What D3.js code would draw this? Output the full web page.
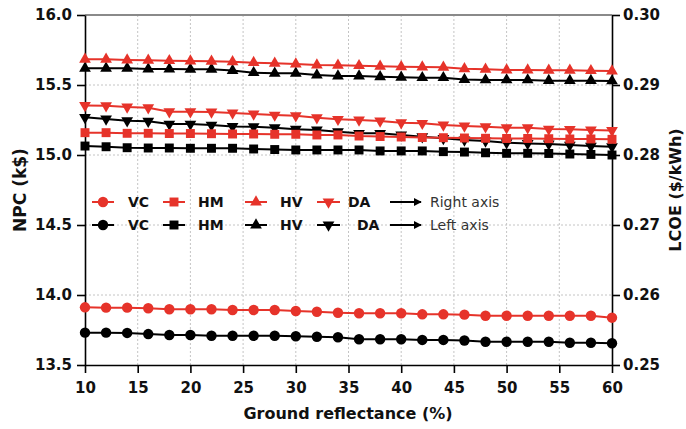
<!DOCTYPE html>
<html>
<head>
<meta charset="utf-8">
<script src="https://cdn.jsdelivr.net/npm/d3@7"></script>
<style>
  body { margin: 0; background: #fff; }
  text { font-family: "DejaVu Sans", sans-serif; }
</style>
</head>
<body>
<svg id="chart" width="686" height="429"></svg>
<script>
// Ground reflectance (%)
const reflectance = [10, 12, 14, 16, 18, 20, 22, 24, 26, 28, 30, 32, 34, 36, 38, 40, 42, 44, 46, 48, 50, 52, 54, 56, 58, 60];

// Net present cost, k$ (left axis)
const npcVC = [13.731, 13.731, 13.729, 13.721, 13.714, 13.714, 13.709, 13.709, 13.709, 13.709, 13.705, 13.702, 13.698, 13.684, 13.684, 13.684, 13.679, 13.679, 13.675, 13.666, 13.666, 13.666, 13.666, 13.659, 13.659, 13.655];
const npcHM = [15.064, 15.059, 15.052, 15.050, 15.050, 15.048, 15.048, 15.048, 15.043, 15.039, 15.036, 15.036, 15.036, 15.036, 15.029, 15.029, 15.029, 15.024, 15.021, 15.016, 15.012, 15.012, 15.011, 15.007, 15.004, 15.000];
const npcHV = [15.619, 15.619, 15.619, 15.614, 15.614, 15.612, 15.612, 15.603, 15.588, 15.584, 15.584, 15.571, 15.564, 15.564, 15.559, 15.555, 15.552, 15.552, 15.539, 15.536, 15.536, 15.536, 15.531, 15.531, 15.531, 15.529];
const npcDA = [15.269, 15.257, 15.245, 15.241, 15.221, 15.221, 15.214, 15.204, 15.202, 15.195, 15.184, 15.179, 15.166, 15.155, 15.155, 15.143, 15.131, 15.119, 15.107, 15.100, 15.088, 15.082, 15.079, 15.071, 15.064, 15.059];

// Levelized cost of energy, $/kWh (right axis)
const lcoeVC = [0.25824, 0.25819, 0.25819, 0.25810, 0.25796, 0.25796, 0.25796, 0.25786, 0.25786, 0.25786, 0.25771, 0.25761, 0.25747, 0.25739, 0.25739, 0.25739, 0.25724, 0.25724, 0.25719, 0.25704, 0.25704, 0.25704, 0.25704, 0.25704, 0.25704, 0.25676];
const lcoeHM = [0.28319, 0.28319, 0.28310, 0.28310, 0.28307, 0.28307, 0.28304, 0.28300, 0.28300, 0.28296, 0.28296, 0.28286, 0.28286, 0.28271, 0.28264, 0.28257, 0.28250, 0.28247, 0.28243, 0.28239, 0.28236, 0.28236, 0.28233, 0.28229, 0.28229, 0.28224];
const lcoeHV = [0.29367, 0.29367, 0.29357, 0.29353, 0.29347, 0.29343, 0.29339, 0.29331, 0.29319, 0.29310, 0.29300, 0.29286, 0.29281, 0.29276, 0.29267, 0.29261, 0.29257, 0.29253, 0.29231, 0.29224, 0.29214, 0.29214, 0.29210, 0.29210, 0.29204, 0.29200];
const lcoeDA = [0.28707, 0.28704, 0.28686, 0.28676, 0.28619, 0.28619, 0.28614, 0.28600, 0.28586, 0.28571, 0.28561, 0.28533, 0.28510, 0.28500, 0.28486, 0.28461, 0.28453, 0.28429, 0.28414, 0.28404, 0.28390, 0.28390, 0.28371, 0.28367, 0.28357, 0.28350];

const xTicks = [10, 15, 20, 25, 30, 35, 40, 45, 50, 55, 60];
const leftTicks = [13.5, 14.0, 14.5, 15.0, 15.5, 16.0];
const rightTicks = [0.25, 0.26, 0.27, 0.28, 0.29, 0.30];

const RED = "#e6332a";
const BLACK = "#000000";

const svg = d3.select("#chart");
const plot = { left: 85, right: 612, top: 15, bottom: 365 };

const x = d3.scaleLinear().domain([10, 60]).range([plot.left, plot.right]);
const yL = d3.scaleLinear().domain([13.5, 16]).range([plot.bottom, plot.top]);
const yR = d3.scaleLinear().domain([0.25, 0.30]).range([plot.bottom, plot.top]);

// dotted grid
const grid = svg.append("g").attr("stroke", "#c4c4c4").attr("stroke-width", 1).attr("stroke-dasharray", "2,2");
grid.selectAll("line.v").data(xTicks.filter(d => d > 10 && d < 60)).join("line")
  .attr("x1", d => x(d)).attr("x2", d => x(d)).attr("y1", plot.top).attr("y2", plot.bottom);
grid.selectAll("line.h").data(leftTicks.filter(d => d > 13.5 && d < 16)).join("line")
  .attr("x1", plot.left).attr("x2", plot.right).attr("y1", d => yL(d)).attr("y2", d => yL(d));

// top frame
svg.append("line").attr("x1", plot.left).attr("x2", plot.right)
  .attr("y1", plot.top).attr("y2", plot.top).attr("stroke", "#8a8a8a").attr("stroke-width", 2);

function styleAxis(g) {
  g.select(".domain").attr("stroke", "#000").attr("stroke-width", 1.6);
  g.selectAll(".tick line").attr("stroke", "#000").attr("stroke-width", 1.6);
  g.selectAll(".tick text").attr("font-family", "DejaVu Sans, sans-serif")
    .attr("font-weight", "bold").attr("font-size", 15).attr("fill", "#111");
}

svg.append("g").attr("transform", `translate(${plot.left},0)`)
  .call(d3.axisLeft(yL).tickValues(leftTicks).tickFormat(d3.format(".1f")).tickSize(8).tickSizeOuter(0).tickPadding(5))
  .call(styleAxis);
svg.append("g").attr("transform", `translate(${plot.right},0)`)
  .call(d3.axisRight(yR).tickValues(rightTicks).tickFormat(d3.format(".2f")).tickSize(8).tickSizeOuter(0).tickPadding(3))
  .call(styleAxis);
svg.append("g").attr("transform", `translate(0,${plot.bottom})`)
  .call(d3.axisBottom(x).tickValues(xTicks).tickFormat(d3.format("d")).tickSize(8).tickSizeOuter(0).tickPadding(9))
  .call(styleAxis);

// axis titles
svg.append("text").attr("x", 348).attr("y", 419).attr("text-anchor", "middle")
  .attr("font-weight", "bold").attr("font-size", 16).attr("fill", "#111").text("Ground reflectance (%)");
svg.append("text").attr("transform", "translate(26,190) rotate(-90)").attr("text-anchor", "middle")
  .attr("font-weight", "bold").attr("font-size", 17).attr("fill", "#111").text("NPC (k$)");
svg.append("text").attr("transform", "translate(681,190) rotate(-90)").attr("text-anchor", "middle")
  .attr("font-weight", "bold").attr("font-size", 16).attr("fill", "#111").text("LCOE ($/kWh)");

// marker shapes
const shapes = {
  circle: { type: d3.symbolCircle, size: 85, rot: 0 },
  square: { type: d3.symbolSquare, size: 80, rot: 0 },
  up: { type: d3.symbolTriangle, size: 60, rot: 0 },
  down: { type: d3.symbolTriangle, size: 60, rot: 180 }
};

const series = [
  { name: "VC", values: npcVC, scale: yL, color: BLACK, shape: "circle" },
  { name: "HM", values: npcHM, scale: yL, color: BLACK, shape: "square" },
  { name: "HV", values: npcHV, scale: yL, color: BLACK, shape: "up" },
  { name: "DA", values: npcDA, scale: yL, color: BLACK, shape: "down" },
  { name: "VC", values: lcoeVC, scale: yR, color: RED, shape: "circle" },
  { name: "HM", values: lcoeHM, scale: yR, color: RED, shape: "square" },
  { name: "HV", values: lcoeHV, scale: yR, color: RED, shape: "up" },
  { name: "DA", values: lcoeDA, scale: yR, color: RED, shape: "down" }
];

series.forEach(s => {
  const pts = reflectance.map((r, i) => [r, s.values[i]]);
  const g = svg.append("g");
  g.append("path").datum(pts)
    .attr("fill", "none").attr("stroke", s.color).attr("stroke-width", 2)
    .attr("d", d3.line().x(d => x(d[0])).y(d => s.scale(d[1])));
  const sh = shapes[s.shape];
  g.selectAll("path.pt").data(pts).join("path").attr("class", "pt")
    .attr("d", d3.symbol().type(sh.type).size(sh.size)())
    .attr("fill", s.color)
    .attr("transform", d => `translate(${x(d[0])},${s.scale(d[1])}) rotate(${sh.rot})`);
});

// legend
const legendRows = [
  { y: 202, color: RED, daX: 348, note: "Right axis" },
  { y: 225, color: BLACK, daX: 357, note: "Left axis" }
];
const legendItems = [
  { label: "VC", shape: "circle", x0: 92, x1: 114, tx: 128 },
  { label: "HM", shape: "square", x0: 163, x1: 185, tx: 198 },
  { label: "HV", shape: "up", x0: 245, x1: 267, tx: 280 },
  { label: "DA", shape: "down", x0: 317, x1: 340, tx: null }
];
const defs = svg.append("defs");
defs.append("marker").attr("id", "arrow").attr("viewBox", "0 0 10 10")
  .attr("refX", 9).attr("refY", 5).attr("markerWidth", 4).attr("markerHeight", 4)
  .attr("orient", "auto")
  .append("path").attr("d", "M0,0 L10,5 L0,10 z").attr("fill", "#000");

legendRows.forEach(row => {
  const g = svg.append("g");
  legendItems.forEach(it => {
    g.append("line").attr("x1", it.x0).attr("x2", it.x1).attr("y1", row.y).attr("y2", row.y)
      .attr("stroke", row.color).attr("stroke-width", 2);
    const sh = shapes[it.shape];
    g.append("path").attr("d", d3.symbol().type(sh.type).size(sh.size)())
      .attr("fill", row.color)
      .attr("transform", `translate(${(it.x0 + it.x1) / 2},${row.y}) rotate(${sh.rot})`);
    g.append("text").attr("x", it.tx === null ? row.daX : it.tx).attr("y", row.y).attr("dy", "0.36em")
      .attr("font-weight", "bold").attr("font-size", 14).attr("fill", "#111").text(it.label);
  });
  g.append("line").attr("x1", 390).attr("x2", 421).attr("y1", row.y).attr("y2", row.y)
    .attr("stroke", "#000").attr("stroke-width", 2).attr("marker-end", "url(#arrow)");
  g.append("text").attr("x", 430).attr("y", row.y).attr("dy", "0.36em")
    .attr("font-size", 14).attr("fill", "#333").text(row.note);
});
</script>
</body>
</html>
